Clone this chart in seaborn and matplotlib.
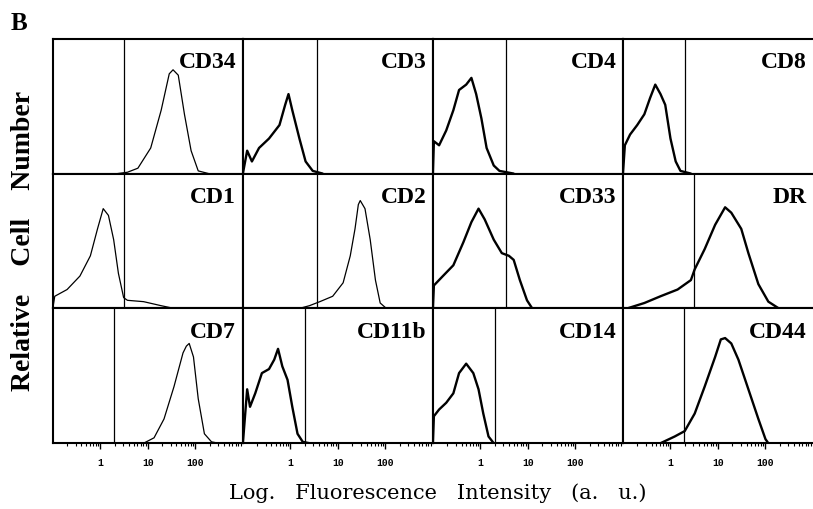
import pandas as pd
import matplotlib
matplotlib.use("Agg")
import matplotlib.pyplot as plt
import seaborn as sns
from matplotlib.ticker import FixedLocator, LogLocator, NullFormatter

# panel order, row by row
markers = ["CD34", "CD3", "CD4", "CD8",
           "CD1", "CD2", "CD33", "DR",
           "CD7", "CD11b", "CD14", "CD44"]

# gate (marker line) position, log10 of intensity
gates_log = [0.49, 0.57, 0.53, 0.30,
             0.49, 0.57, 0.53, 0.49,
             0.28, 0.30, 0.30, 0.28]

# histogram outlines: log10 intensity / relative height
cd34_x = [0.36, 0.57, 0.79, 1.06, 1.28, 1.45, 1.53, 1.64, 1.77, 1.91, 2.06, 2.28]
cd34_y = [0.00, 0.01, 0.04, 0.19, 0.47, 0.74, 0.77, 0.73, 0.44, 0.17, 0.02, 0.00]

cd3_x = [-1.0, -0.91, -0.81, -0.66, -0.45, -0.23, -0.11, -0.04, 0.04, 0.19, 0.32, 0.47, 0.68]
cd3_y = [0.00, 0.17, 0.09, 0.19, 0.26, 0.36, 0.51, 0.59, 0.47, 0.26, 0.09, 0.02, 0.00]

cd4_x = [-1.0, -0.98, -0.87, -0.72, -0.57, -0.45, -0.30, -0.19, -0.09, 0.02, 0.13, 0.28, 0.40, 0.70]
cd4_y = [0.00, 0.24, 0.21, 0.32, 0.47, 0.62, 0.66, 0.71, 0.59, 0.41, 0.19, 0.06, 0.02, 0.00]

cd8_x = [-1.0, -0.96, -0.85, -0.70, -0.55, -0.43, -0.32, -0.21, -0.11, 0.00, 0.11, 0.21, 0.43]
cd8_y = [0.00, 0.21, 0.29, 0.36, 0.44, 0.56, 0.66, 0.59, 0.51, 0.26, 0.09, 0.02, 0.00]

cd1_x = [-1.0, -0.96, -0.70, -0.43, -0.21, -0.06, 0.06, 0.17, 0.28, 0.38, 0.49, 0.57, 0.91, 1.28, 1.55]
cd1_y = [0.00, 0.09, 0.14, 0.24, 0.39, 0.59, 0.74, 0.69, 0.51, 0.26, 0.08, 0.06, 0.05, 0.02, 0.00]

cd2_x = [0.19, 0.40, 0.62, 0.89, 1.11, 1.26, 1.36, 1.43, 1.47, 1.57, 1.68, 1.79, 1.89, 2.02]
cd2_y = [0.00, 0.02, 0.05, 0.09, 0.19, 0.39, 0.59, 0.77, 0.80, 0.74, 0.51, 0.21, 0.04, 0.00]

cd33_x = [-1.0, -0.98, -0.79, -0.57, -0.36, -0.19, -0.04, 0.09, 0.28, 0.45, 0.60, 0.70, 0.83, 0.98, 1.09]
cd33_y = [0.00, 0.17, 0.24, 0.32, 0.49, 0.64, 0.74, 0.66, 0.51, 0.41, 0.39, 0.36, 0.21, 0.06, 0.00]

dr_x = [-0.91, -0.55, -0.21, 0.15, 0.43, 0.51, 0.72, 0.94, 1.15, 1.28, 1.49, 1.64, 1.85, 2.06, 2.28]
dr_y = [0.00, 0.04, 0.09, 0.14, 0.21, 0.29, 0.44, 0.62, 0.75, 0.71, 0.59, 0.41, 0.18, 0.05, 0.00]

cd7_x = [0.91, 1.13, 1.34, 1.55, 1.74, 1.81, 1.87, 1.96, 2.06, 2.19, 2.34, 2.49]
cd7_y = [0.00, 0.04, 0.18, 0.42, 0.67, 0.72, 0.74, 0.64, 0.33, 0.07, 0.01, 0.00]

cd11b_x = [-1.0, -0.91, -0.85, -0.74, -0.60, -0.45, -0.34, -0.26, -0.17, -0.06, 0.04, 0.15, 0.26, 0.40]
cd11b_y = [0.00, 0.40, 0.27, 0.37, 0.52, 0.55, 0.62, 0.70, 0.57, 0.47, 0.27, 0.07, 0.01, 0.00]

cd14_x = [-1.0, -0.98, -0.87, -0.72, -0.57, -0.45, -0.30, -0.15, -0.04, 0.06, 0.17, 0.28]
cd14_y = [0.00, 0.20, 0.25, 0.30, 0.37, 0.52, 0.59, 0.52, 0.40, 0.22, 0.05, 0.00]

cd44_x = [-0.21, 0.09, 0.30, 0.51, 0.72, 0.94, 1.06, 1.15, 1.28, 1.43, 1.64, 1.85, 2.00, 2.06]
cd44_y = [0.00, 0.05, 0.09, 0.22, 0.42, 0.64, 0.77, 0.78, 0.74, 0.62, 0.40, 0.18, 0.03, 0.00]

curves = {
    "CD34": (cd34_x, cd34_y), "CD3": (cd3_x, cd3_y), "CD4": (cd4_x, cd4_y), "CD8": (cd8_x, cd8_y),
    "CD1": (cd1_x, cd1_y), "CD2": (cd2_x, cd2_y), "CD33": (cd33_x, cd33_y), "DR": (dr_x, dr_y),
    "CD7": (cd7_x, cd7_y), "CD11b": (cd11b_x, cd11b_y), "CD14": (cd14_x, cd14_y), "CD44": (cd44_x, cd44_y),
}
smooth = {"CD34", "CD1", "CD2", "CD7"}

# long table for seaborn
rows = []
for m, (lx, ly) in curves.items():
    for a, b in zip(lx, ly):
        rows.append({"marker": m, "intensity": 10 ** a, "count": b})
df = pd.DataFrame(rows)

sns.set_style("white")
plt.rcParams["font.family"] = ["Liberation Serif", "DejaVu Serif"]
plt.rcParams["text.color"] = "black"
plt.rcParams["xtick.color"] = "black"

fig, axes = plt.subplots(3, 4, figsize=(8.13, 5.10), dpi=100, sharex=True, sharey=True,
                         gridspec_kw={"wspace": 0, "hspace": 0})
fig.subplots_adjust(left=0.065, right=1.0, top=0.922, bottom=0.129)

for i, (ax, m) in enumerate(zip(axes.flat, markers)):
    sub = df[df["marker"] == m]
    sns.lineplot(data=sub, x="intensity", y="count", ax=ax, color="black",
                 linewidth=0.9 if m in smooth else 1.7, sort=False, estimator=None)
    ax.axvline(10 ** gates_log[i], color="black", linewidth=0.9)
    ax.set_xscale("log")
    ax.set_xlim(0.1, 1000)
    ax.set_ylim(0, 1)
    ax.set_xlabel("")
    ax.set_ylabel("")
    ax.set_yticks([])
    for s in ax.spines.values():
        s.set_color("black")
        s.set_linewidth(1.5)
    if i % 4 == 3:
        ax.spines["right"].set_visible(False)
    ax.text(0.965, 0.79, m, transform=ax.transAxes, ha="right", va="baseline",
            fontsize=17, fontweight="bold", color="black")
    ax.xaxis.set_major_locator(FixedLocator([1, 10, 100]))
    ax.xaxis.set_minor_locator(LogLocator(base=10, subs=range(2, 10)))
    ax.xaxis.set_minor_formatter(NullFormatter())
    if i >= 8:
        ax.set_xticklabels(["1", "10", "100"], fontsize=7, family="Liberation Mono",
                           fontweight="bold")
        ax.tick_params(axis="x", which="major", direction="out", length=4, width=1, pad=6, bottom=True)
        ax.tick_params(axis="x", which="minor", direction="out", length=2.5, width=0.8, bottom=True)
    else:
        ax.tick_params(axis="x", which="both", bottom=False, labelbottom=False)

fig.text(0.538, 0.022, "Log.   Fluorescence   Intensity   (a.   u.)", ha="center", va="baseline",
         fontsize=15, family="DejaVu Serif")
fig.text(0.029, 0.527, "Relative    Cell    Number", rotation=90, ha="center", va="center",
         fontsize=20, fontweight="bold")
fig.text(0.013, 0.941, "B", ha="left", va="baseline", fontsize=18, fontweight="bold")

fig.savefig("out.png", dpi=100)
